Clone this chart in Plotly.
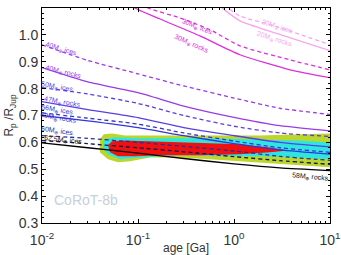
import plotly.graph_objects as go

# ---------------- data ----------------
AGES = [0.01, 0.03, 0.1, 0.3, 1, 3, 10]
R_40_ices  = [0.963, 0.905, 0.855, 0.81, 0.765, 0.727, 0.704]
R_40_rocks = [0.878, 0.825, 0.785, 0.735, 0.693, 0.662, 0.643]
R_50_ices  = [0.804, 0.78, 0.745, 0.70, 0.66, 0.635, 0.622]
R_47_rocks = [0.752, 0.722, 0.692, 0.655, 0.625, 0.60, 0.583]
R_56_ices  = [0.71, 0.69, 0.668, 0.635, 0.605, 0.58, 0.563]
R_60_rocks = [0.70, 0.68, 0.655, 0.625, 0.595, 0.572, 0.556]
R_60_ices  = [0.625, 0.615, 0.60, 0.585, 0.568, 0.548, 0.533]
R_625_ices = [0.607, 0.595, 0.58, 0.565, 0.547, 0.532, 0.518]
R_58_rocks = [0.598, 0.58, 0.56, 0.54, 0.52, 0.505, 0.495]

AGE_30_rocks = [0.05, 0.093, 0.17, 0.442, 1.155, 3.83, 10]
R_30_rocks   = [1.17, 1.10, 1.059, 0.996, 0.926, 0.870, 0.841]
AGE_30_ices  = [0.08, 0.127, 0.274, 0.562, 1.155, 3.83, 10]
R_30_ices    = [1.14, 1.10, 1.063, 1.019, 0.959, 0.907, 0.870]
AGE_20_ices  = [0.6, 0.866, 1.155, 2.67, 10]
R_20_ices    = [1.14, 1.10, 1.07, 1.033, 0.963]
AGE_20_rocks = [0.55, 0.75, 1.155, 2.67, 10]
R_20_rocks   = [1.14, 1.10, 1.052, 1.007, 0.941]

# posterior density regions (age [Ga], radius)
YEL_AGE = [0.040, 0.044, 0.054, 0.073, 0.105, 0.215, 0.442, 0.908, 1.87, 4.87, 10,
           10, 4.87, 2.37, 1.155, 0.562, 0.274, 0.133, 0.0825, 0.062, 0.0487, 0.040]
YEL_R   = [0.611, 0.630, 0.633, 0.626, 0.626, 0.626, 0.626, 0.626, 0.626, 0.630, 0.633,
           0.507, 0.515, 0.522, 0.530, 0.537, 0.544, 0.544, 0.530, 0.526, 0.537, 0.563]
CYA_AGE = [0.0432, 0.0442, 0.0576, 0.105, 0.442, 1.87, 4.87, 10,
           10, 4.87, 1.87, 0.715, 0.274, 0.105, 0.0649, 0.0487, 0.0432]
CYA_R   = [0.600, 0.611, 0.619, 0.615, 0.615, 0.611, 0.607, 0.600,
           0.537, 0.544, 0.548, 0.548, 0.552, 0.544, 0.537, 0.556, 0.581]
RED_AGE = [0.0487, 0.0536, 0.0732, 0.133, 0.442, 1.155, 2.37, 3.65,
           2.37, 1.155, 0.442, 0.170, 0.0931, 0.0619, 0.0511]
RED_R   = [0.589, 0.604, 0.607, 0.604, 0.600, 0.593, 0.581, 0.570,
           0.563, 0.556, 0.552, 0.552, 0.548, 0.548, 0.563]

X_TICKS = [0.01, 0.1, 1, 10]
X_TICKTEXT = ["10<sup>-2</sup>", "10<sup>-1</sup>", "10<sup>0</sup>", "10<sup>1</sup>"]
Y_TICKS = [0.3, 0.4, 0.5, 0.6, 0.7, 0.8, 0.9, 1.0, 1.1]

# ---------------- figure ----------------
fig = go.Figure()

for ax, ay, col in [(YEL_AGE, YEL_R, "#bcd62c"), (CYA_AGE, CYA_R, "#2ee6e0"), (RED_AGE, RED_R, "#f01010")]:
    fig.add_trace(go.Scatter(x=ax, y=ay, mode="lines", fill="toself", fillcolor=col,
                             line=dict(width=0, color=col), hoverinfo="skip"))

curves = [
    (AGE_20_ices, R_20_ices, "#f4a6f0", "4px,3px"),
    (AGE_20_rocks, R_20_rocks, "#f4a6f0", "solid"),
    (AGE_30_ices, R_30_ices, "#dd2edd", "4px,3px"),
    (AGE_30_rocks, R_30_rocks, "#dd2edd", "solid"),
    (AGES, R_40_ices, "#9a3ae6", "4px,3px"),
    (AGES, R_40_rocks, "#9a3ae6", "solid"),
    (AGES, R_50_ices, "#5a3ee6", "4px,3px"),
    (AGES, R_47_rocks, "#5a3ee6", "solid"),
    (AGES, R_56_ices, "#3434d8", "4px,3px"),
    (AGES, R_60_rocks, "#3434d8", "solid"),
    (AGES, R_60_ices, "#22309e", "4px,3px"),
    (AGES, R_625_ices, "#10145a", "4px,3px"),
    (AGES, R_58_rocks, "#000000", "solid"),
]
for ax, ay, col, dash in curves:
    fig.add_trace(go.Scatter(x=ax, y=ay, mode="lines",
                             line=dict(color=col, width=1.3, dash=dash, shape="spline", smoothing=0.6),
                             hoverinfo="skip"))

labels = [
    (0.458, 1.030, "20M<sub>⊕</sub> ices", "#f4a6f0", 18),
    (0.417, 0.985, "20M<sub>⊕</sub> rocks", "#f4a6f0", 18),
    (-0.38, 1.030, "30M<sub>⊕</sub> ices", "#dd2edd", 22),
    (-0.44, 0.966, "30M<sub>⊕</sub> rocks", "#dd2edd", 24),
    (-1.80, 0.948, "40M<sub>⊕</sub> ices", "#9a3ae6", 17),
    (-1.78, 0.863, "40M<sub>⊕</sub> rocks", "#9a3ae6", 14),
    (-1.84, 0.807, "50M<sub>⊕</sub> ices", "#5a3ee6", 10),
    (-1.79, 0.752, "47M<sub>⊕</sub> rocks", "#5a3ee6", 10),
    (-1.84, 0.719, "56M<sub>⊕</sub> ices", "#3434d8", 10),
    (-1.83, 0.689, "60M<sub>⊕</sub> rocks", "#3434d8", 10),
    (-1.84, 0.644, "60M<sub>⊕</sub> ices", "#22309e", 8),
    (-1.78, 0.607, "62.5M<sub>⊕</sub> ices", "#111111", 6),
    (0.80, 0.472, "58M<sub>⊕</sub> rocks", "#111111", 5),
]
for lx, ly, txt, col, ang in labels:
    fig.add_annotation(x=lx, y=ly, xref="x", yref="y", text=txt, showarrow=False,
                       textangle=ang, font=dict(size=7, color=col, family="Liberation Sans"))

fig.add_annotation(x=0.035, y=0.06, xref="paper", yref="paper", text="CoRoT-8b", showarrow=False,
                   xanchor="left", yanchor="bottom", font=dict(size=14, color="#c6d0da", family="Liberation Sans"))

axis_common = dict(showline=True, linecolor="black", linewidth=1, mirror="allticks",
                   ticks="inside", ticklen=4, tickcolor="black", showgrid=False, zeroline=False,
                   automargin=False,
                   tickfont=dict(size=14, color="#333", family="Liberation Sans"))

fig.update_xaxes(type="log", range=[-2, 1], tickvals=X_TICKS, ticktext=X_TICKTEXT,
                 ticklabelstandoff=4,
                 minor=dict(ticks="inside", ticklen=2, dtick="D1", tickcolor="black"),
                 title=dict(text="age [Ga]", font=dict(size=12, color="#333", family="Liberation Sans"), standoff=0),
                 **axis_common)
fig.update_yaxes(range=[0.3, 1.1], tickvals=Y_TICKS, tickformat=".1f",
                 minor=dict(ticks="inside", ticklen=2, dtick=0.02, tickcolor="black"),
                 title=dict(text="R<sub>p</sub> /R<sub>Jup</sub>", font=dict(size=12, color="#333", family="Liberation Sans"), standoff=2),
                 **axis_common)

fig.update_layout(width=341, height=255, margin=dict(l=42, r=11, t=8, b=32),
                  plot_bgcolor="white", paper_bgcolor="white", showlegend=False)

fig.write_html("out.html")
